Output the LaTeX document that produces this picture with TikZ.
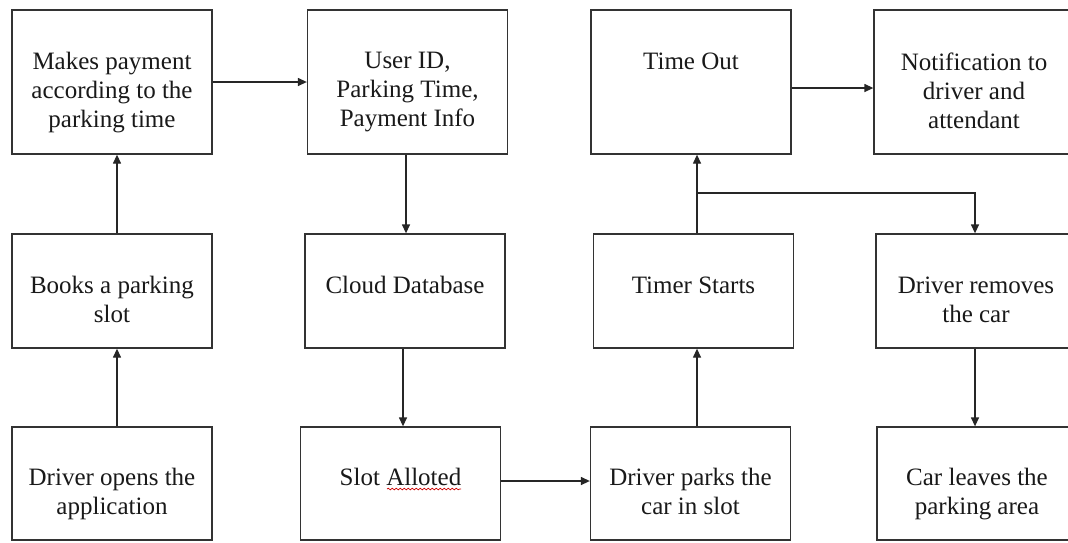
\documentclass[tikz,border=0pt]{standalone}
\usepackage{fontspec}
\setmainfont{Liberation Serif}
\usetikzlibrary{arrows.meta,decorations.pathmorphing}
\begin{document}
\begin{tikzpicture}[x=1pt,y=-1pt,
  boxnode/.style={draw=black!80, line width=1.3pt, inner sep=0pt, minimum width=200pt, fill=none},
  toprow/.style={boxnode, minimum height=144pt},
  midrow/.style={boxnode, minimum height=114pt},
  txt/.style={inner sep=0pt, align=center, text=black!90, font=\fontsize{25}{29}\selectfont, anchor=north},
  conn/.style={draw=black!85, line width=1.3pt, -{Triangle[length=9pt,width=8pt]}}]
\useasboundingbox (0,0) rectangle (1068,542);
\clip (0,0) rectangle (1068,542);
\fill[white] (0,0) rectangle (1068,542);
% top row
\node[toprow] (b1) at (112,82) {};
\node[toprow] (b2) at (407.5,82) {};
\node[toprow] (b3) at (691,82) {};
\node[toprow] (b4) at (974,82) {};
% middle row
\node[midrow] (m1) at (112,291) {};
\node[midrow] (m2) at (405,291) {};
\node[midrow] (m3) at (693.5,291) {};
\node[midrow] (m4) at (976,291) {};
% bottom row
\node[midrow, minimum height=113pt] (r1) at (112,483.5) {};
\node[midrow, minimum height=113pt] (r2) at (400.5,483.5) {};
\node[midrow, minimum height=113pt] (r3) at (690.5,483.5) {};
\node[midrow, minimum height=113pt] (r4) at (977,483.5) {};
% texts
\node[txt] (tb1) at ([yshift=-43pt]b1.north) {Makes payment\\according to the\\parking time};
\node[txt] (tb2) at ([yshift=-43pt]b2.north) {User ID,\\Parking Time,\\Payment Info};
\node[txt] (tb3) at ([yshift=-43pt]b3.north) {Time Out};
\node[txt] (tb4) at ([yshift=-43pt]b4.north) {Notification to\\driver and\\attendant};
\node[txt] (tm1) at ([yshift=-43pt]m1.north) {Books a parking\\slot};
\node[txt] (tm2) at ([yshift=-43pt]m2.north) {Cloud Database};
\node[txt] (tm3) at ([yshift=-43pt]m3.north) {Timer Starts};
\node[txt] (tm4) at ([yshift=-43pt]m4.north) {Driver removes\\the car};
\node[txt] (tr1) at ([yshift=-42pt]r1.north) {Driver opens the\\application};
\node[txt] (tr2) at ([yshift=-42pt]r2.north) {Slot Alloted};
\node[txt] (tr3) at ([yshift=-42pt]r3.north) {Driver parks the\\car in slot};
\node[txt] (tr4) at ([yshift=-42pt]r4.north) {Car leaves the\\parking area};
% spell-check squiggle
\coordinate (sq1) at (387,489);
\coordinate (sq2) at (461,489);
\draw[red!80!black, line width=0.7pt, decorate, decoration={snake, amplitude=0.8pt, segment length=4pt}] (sq1) -- (sq2);
% column coordinates
\coordinate (xa) at (117,0);
\coordinate (xb) at (406,0);
\coordinate (xc) at (403,0);
\coordinate (xd) at (697,0);
\coordinate (xe) at (975,0);
\coordinate (ya) at (0,88);
\coordinate (yb) at (0,193);
\coordinate (yc) at (0,481);
% connectors
\draw[conn] (r1.north -| xa) -- (m1.south -| xa);
\draw[conn] (m1.north -| xa) -- (b1.south -| xa);
\draw[conn] (b1.east) -- (b2.west);
\draw[conn] (b2.south -| xb) -- (m2.north -| xb);
\draw[conn] (m2.south -| xc) -- (r2.north -| xc);
\draw[conn] (r2.east |- yc) -- (r3.west |- yc);
\draw[conn] (r3.north -| xd) -- (m3.south -| xd);
\draw[conn] (m3.north -| xd) -- (b3.south -| xd);
\coordinate (br) at (xd |- yb);
\draw[conn] (br) -- (xe |- yb) -- (m4.north -| xe);
\draw[conn] (b3.east |- ya) -- (b4.west |- ya);
\draw[conn] (m4.south -| xe) -- (r4.north -| xe);
\end{tikzpicture}
\end{document}
